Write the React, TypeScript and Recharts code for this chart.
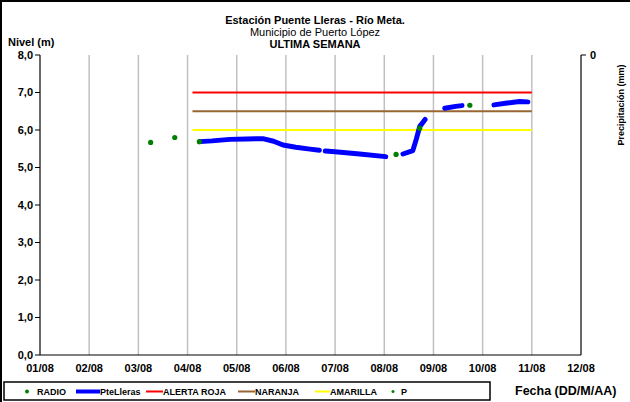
import {
  ComposedChart,
  Line,
  Scatter,
  XAxis,
  YAxis,
  CartesianGrid,
} from 'recharts';

// day of August (fractional) -> level in metres
const dayTicks = [1, 2, 3, 4, 5, 6, 7, 8, 9, 10, 11, 12];
const levelTicks = [0, 1, 2, 3, 4, 5, 6, 7, 8];

const pteLleras = [
  { d: 4.25, v: 5.69 },
  { d: 4.5, v: 5.71 },
  { d: 4.86, v: 5.75 },
  { d: 5.2, v: 5.76 },
  { d: 5.53, v: 5.77 },
  { d: 5.75, v: 5.7 },
  { d: 5.94, v: 5.6 },
  { d: 6.2, v: 5.54 },
  { d: 6.49, v: 5.49 },
  { d: 6.68, v: 5.46 },
  { d: 6.74, v: null },
  { d: 6.8, v: 5.44 },
  { d: 7.0, v: 5.42 },
  { d: 7.5, v: 5.36 },
  { d: 8.03, v: 5.29 },
  { d: 8.2, v: null },
  { d: 8.38, v: 5.36 },
  { d: 8.58, v: 5.45 },
  { d: 8.65, v: 5.75 },
  { d: 8.72, v: 6.09 },
  { d: 8.83, v: 6.28 },
  { d: 9.0, v: null },
  { d: 9.23, v: 6.58 },
  { d: 9.45, v: 6.63 },
  { d: 9.58, v: 6.65 },
  { d: 9.9, v: null },
  { d: 10.23, v: 6.67 },
  { d: 10.5, v: 6.72 },
  { d: 10.75, v: 6.76 },
  { d: 10.92, v: 6.75 },
];

const radio = [
  { d: 3.25, v: 5.67 },
  { d: 3.74, v: 5.8 },
  { d: 4.24, v: 5.69 },
  { d: 8.24, v: 5.35 },
  { d: 8.72, v: 6.05 },
  { d: 9.74, v: 6.66 },
];

// precipitation (mm): nothing recorded this week
const precip = [
  { d: 4.25, v: 0 },
  { d: 10.92, v: 0 },
];

const alertaRoja = [
  { d: 4.1, v: 7.0 },
  { d: 11.0, v: 7.0 },
];
const naranja = [
  { d: 4.1, v: 6.5 },
  { d: 11.0, v: 6.5 },
];
const amarilla = [
  { d: 4.1, v: 6.0 },
  { d: 11.0, v: 6.0 },
];

const font = '"Liberation Sans", Arial, sans-serif';
const tickStyle = { fontFamily: font, fontSize: 11, fontWeight: 700, fill: '#000' };

const fmtDay = (d: number) => `${String(d).padStart(2, '0')}/08`;
const fmtLevel = (v: number) => v.toFixed(1).replace('.', ',');

function GreenDot(props: any) {
  const { cx, cy } = props;
  if (cx == null || cy == null) return null;
  return <circle cx={cx} cy={cy} r={2.6} fill="#008000" />;
}

function LegendBox() {
  const txt = { fontFamily: font, fontSize: 9, fontWeight: 700 } as const;
  return (
    <svg
      width={490}
      height={21}
      style={{ position: 'absolute', left: 3, top: 381 }}
    >
      <rect x={1} y={1} width={486} height={18} fill="#fff" stroke="#000" strokeWidth={1.5} />
      <circle cx={24} cy={10.5} r={2} fill="#008000" />
      <text x={34} y={14} style={txt}>RADIO</text>
      <line x1={73} y1={10.5} x2={97} y2={10.5} stroke="#0000ff" strokeWidth={4} />
      <text x={97} y={14} style={txt}>PteLleras</text>
      <line x1={143} y1={10.5} x2={160} y2={10.5} stroke="#ff0000" strokeWidth={2} />
      <text x={160} y={14} style={txt}>ALERTA ROJA</text>
      <line x1={235} y1={10.5} x2={252} y2={10.5} stroke="#996633" strokeWidth={2} />
      <text x={252} y={14} style={txt}>NARANJA</text>
      <line x1={312} y1={10.5} x2={327} y2={10.5} stroke="#ffff00" strokeWidth={2} />
      <text x={327} y={14} style={txt}>AMARILLA</text>
      <circle cx={390} cy={10.5} r={1.5} fill="#008000" />
      <text x={398} y={14} style={txt}>P</text>
    </svg>
  );
}

export default function App() {
  return (
    <div
      style={{
        position: 'fixed',
        left: 0,
        top: 0,
        width: 630,
        height: 402,
        overflow: 'hidden',
        background: '#fff',
        fontFamily: font,
      }}
    >
      <div
        style={{
          position: 'absolute',
          left: 0,
          top: 0,
          width: 660,
          height: 430,
          border: '2px solid #000',
          boxSizing: 'border-box',
        }}
      />
      <div style={{ position: 'absolute', left: 0, top: 14, width: 630, textAlign: 'center', fontSize: 11, lineHeight: '12px' }}>
        <div style={{ fontWeight: 700 }}>Estación Puente Lleras - Río Meta.</div>
        <div>Municipio de Puerto López</div>
        <div style={{ fontWeight: 700 }}>ULTIMA SEMANA</div>
      </div>
      <div style={{ position: 'absolute', left: 8, top: 36, fontSize: 11, fontWeight: 700 }}>Nivel (m)</div>
      <div style={{ position: 'absolute', left: 515, top: 384, fontSize: 12.5, fontWeight: 700, whiteSpace: 'nowrap' }}>Fecha (DD/M/AA)</div>
      <div
        style={{
          position: 'absolute',
          left: 621,
          top: 105,
          fontSize: 9,
          fontWeight: 700,
          lineHeight: '10px',
          whiteSpace: 'nowrap',
          transform: 'translate(-50%, -50%) rotate(-90deg)',
        }}
      >
        Precipitación (mm)
      </div>
      <div style={{ position: 'absolute', left: 0, top: 0 }}>
        <ComposedChart
          width={630}
          height={402}
          margin={{ top: 55, right: 0, bottom: 27, left: 0 }}
        >
          <CartesianGrid stroke="#c0c0c0" strokeWidth={1.5} horizontalValues={levelTicks} verticalValues={dayTicks} />
          <XAxis
            type="number"
            dataKey="d"
            domain={[1, 12]}
            ticks={dayTicks}
            tickFormatter={fmtDay}
            allowDataOverflow
            height={20}
            stroke="#000"
            tickLine={false}
            tick={tickStyle}
            tickMargin={3}
            interval={0}
          />
          <YAxis
            yAxisId="left"
            type="number"
            domain={[0, 8]}
            ticks={levelTicks}
            tickFormatter={fmtLevel}
            width={40}
            stroke="#000"
            tickSize={5}
            tick={tickStyle}
            tickMargin={2}
            interval={0}
          />
          <YAxis
            yAxisId="right"
            orientation="right"
            type="number"
            domain={[0, 100]}
            allowDataOverflow
            reversed
            ticks={[0]}
            width={49}
            stroke="#000"
            tickSize={5}
            tick={tickStyle}
            tickMargin={4}
          />
          <Line
            yAxisId="right"
            data={precip}
            dataKey="v"
            stroke="none"
            strokeWidth={0}
            dot={false}
            isAnimationActive={false}
          />
          <Line
            yAxisId="left"
            data={alertaRoja}
            dataKey="v"
            stroke="#ff0000"
            strokeWidth={2}
            dot={false}
            isAnimationActive={false}
          />
          <Line
            yAxisId="left"
            data={naranja}
            dataKey="v"
            stroke="#996633"
            strokeWidth={2}
            dot={false}
            isAnimationActive={false}
          />
          <Line
            yAxisId="left"
            data={amarilla}
            dataKey="v"
            stroke="#ffff00"
            strokeWidth={2}
            dot={false}
            isAnimationActive={false}
          />
          <Scatter
            yAxisId="left"
            data={radio}
            dataKey="v"
            shape={<GreenDot />}
            isAnimationActive={false}
          />
          <Line
            yAxisId="left"
            data={pteLleras}
            dataKey="v"
            type="linear"
            stroke="#0000ff"
            strokeWidth={5}
            strokeLinecap="round"
            strokeLinejoin="round"
            dot={false}
            connectNulls={false}
            isAnimationActive={false}
          />
        </ComposedChart>
      </div>
      <LegendBox />
    </div>
  );
}
